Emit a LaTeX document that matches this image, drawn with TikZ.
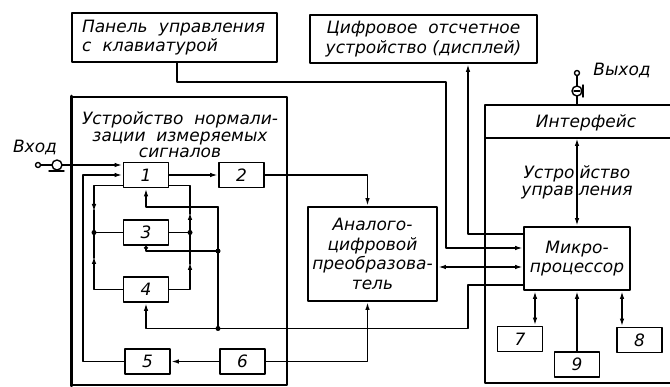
\documentclass[tikz,border=0pt]{standalone}
\usepackage{fontspec}
\setmainfont{DejaVu Sans}
\usetikzlibrary{arrows.meta}

\begin{document}
\begin{tikzpicture}[x=1pt,y=-1pt,line cap=round,line join=round,
  >={Latex[length=8pt,width=4.5pt]},
  blk/.style={draw,line width=1.8pt,inner sep=1pt,align=center,font=\itshape\fontsize{17}{19.5}\selectfont},
  num/.style={blk,minimum width=45pt,minimum height=25pt},
  wire/.style={line width=1.6pt},
  lbl/.style={align=center,font=\itshape\fontsize{17}{17}\selectfont},
  dot/.style={circle,fill,inner sep=0pt,minimum size=5pt}]
  \useasboundingbox (0,0) rectangle (670,387);
  % верхние блоки
  \node[blk,minimum width=205pt,minimum height=49pt,text width=185pt,inner xsep=10pt,align=left] (panel) at (174.5,37.5) {Панель\ \ управления\\с\ \ клавиатурой};
  \node[blk,minimum width=227pt,minimum height=48pt] (disp) at (423.5,39) {Цифровое\ \ отсчетное\\устройство (дисплей)};
  % устройство нормализации
  \node[draw,line width=1.6pt,minimum width=215pt,minimum height=288pt] (norm) at (179.5,241) {};
  \draw[line width=3.2pt] (norm.north west) -- (norm.south west);
  \node[lbl,font=\itshape\fontsize{17}{16.5}\selectfont] (normtxt) at (180,135) {Устройство\ \ нормали-\\зации\ \ измеряемых\\сигналов};
  \node[num] (b1) at (146,175) {1};
  \node[num] (b2) at (241.5,175) {2};
  \node[num] (b3) at (146,232.5) {3};
  \node[num] (b4) at (146,289.5) {4};
  \node[num] (b5) at (147.5,361.5) {5};
  \node[num] (b6) at (242.5,361.5) {6};
  % вход
  \node[lbl] (intxt) at (35,147) {Вход};
  \draw[line width=1.4pt] (38,165) circle (2.5);
  \draw[line width=1.4pt] (40.5,165) -- (52,165);
  \draw[line width=1.4pt] (57,165) circle (5);
  \draw[line width=1.4pt] (49,171) -- (64,171);
  \coordinate (in) at (62,165);
  \draw[wire,->] (in) -- (in -| b1.west);
  % АЦП и микропроцессор
  \node[blk,minimum width=129pt,minimum height=94pt] (adc) at (372.5,254) {Аналого-\\цифровой\\преобразова-\\тель};
  \draw[line width=1.8pt] (670,105) -- (485,105) -- (485,383) -- (670,383);
  \draw[line width=1.6pt] (485,138) -- (670,138);
  \coordinate (ifc) at (577,138);
  \node[lbl] (ifctxt) at (586,123) {Интерфейс};
  \node[lbl] (ctltxt) at (577,182) {Устро\hspace{5pt}йство\\управ\hspace{5pt}ления};
  \node[blk,minimum width=106pt,minimum height=63pt] (mp) at (577,258.5) {Микро-\\процессор};
  \node[num] (b7) at (520,339) {7};
  \node[num] (b8) at (639.5,340) {8};
  \node[num] (b9) at (577,364.5) {9};
  % выход
  \node[lbl] (outtxt) at (622,70) {Выход};
  \draw[line width=1.4pt] (577,73) circle (2.5);
  \draw[line width=1.4pt] (577,75.5) -- (577,86);
  \draw[line width=1.4pt] (577,91) circle (5);
  \draw[line width=1.4pt] (574,91) -- (580,91);
  \draw[line width=1.4pt] (583,85) -- (583,97);
  \draw[line width=1.4pt] (577,96) -- (577,105);
  % связи внутри устройства нормализации
  \draw[wire,->] (b1) -- (b2);
  \draw[wire,->] (b6) -- (b5);
  \draw[wire,->] (b5.west) -| (83,200) |- (b1.west);
  \coordinate (l1) at (94,185.5);
  \coordinate (l2) at (94,232.5);
  \coordinate (l3) at (94,289.5);
  \coordinate (r1) at (190,185.5);
  \coordinate (r2) at (190,232.5);
  \coordinate (r3) at (190,289.5);
  \draw[wire,->] (l1 -| b1.west) -- (l1) -- (94,212);
  \draw[wire] (94,210) -- (l2) -- (b3.west);
  \draw[wire,->] (b4.west) -- (l3) -- (94,256);
  \draw[wire] (94,258) -- (l2);
  \draw[wire,->] (b4.east) -- (r3) -- (190,262);
  \draw[wire] (190,264) -- (r2);
  \draw[wire] (b3.east) -- (r2);
  \draw[wire,->] (r2) -- (190,212);
  \draw[wire] (190,214) -- (r1) -- (r1 -| b1.east);
  \node[dot] (d1) at (l2) {};
  \node[dot] (d2) at (r2) {};
  % управление блоками 1, 3, 4
  \coordinate (c0) at (468,285);
  \coordinate (c1) at (468,328.5);
  \coordinate (j4) at (218,328.5);
  \coordinate (j3) at (218,251);
  \coordinate (c2) at (218,207);
  \draw[wire] (c0 -| mp.west) -- (c0) -- (c1) -- (j4);
  \draw[wire,->] (j4) -| (b4.south);
  \draw[wire] (j4) -- (c2);
  \draw[wire,->] (c2) -| (b1.south);
  \draw[wire,-{Circle[open,length=4pt]}] (j3) -| (b3.south);
  \node[dot] (d3) at (j4) {};
  \node[dot] (d4) at (j3) {};
  % АЦП
  \draw[wire,->] (b2.east) -| ([xshift=-5pt]adc.north);
  \draw[wire,->] (b6.east) -| ([xshift=-5pt]adc.south);
  \draw[wire,<->] ([yshift=-13pt]adc.east) -- ([yshift=-13pt]adc.east -| mp.west);
  % пульт и дисплей
  \coordinate (p1) at (446,82);
  \coordinate (p2) at (446,248);
  \draw[wire,->] ([xshift=2.5pt]panel.south) |- (p1) -- (p2) -- (p2 -| mp.west);
  \draw[wire,->] ([yshift=-8pt]mp.north west) -| ([xshift=44.5pt]disp.south);
  % микропроцессор
  \draw[wire,<->] (ifc) -- (mp.north);
  \draw[wire,<->] ([xshift=15pt]b7.north) -- ([xshift=15pt]b7.north |- mp.south);
  \draw[wire,->] (b9) -- (mp);
  \draw[wire,<->] ([xshift=-17.5pt]b8.north) -- ([xshift=-17.5pt]b8.north |- mp.south);
\end{tikzpicture}
\end{document}
